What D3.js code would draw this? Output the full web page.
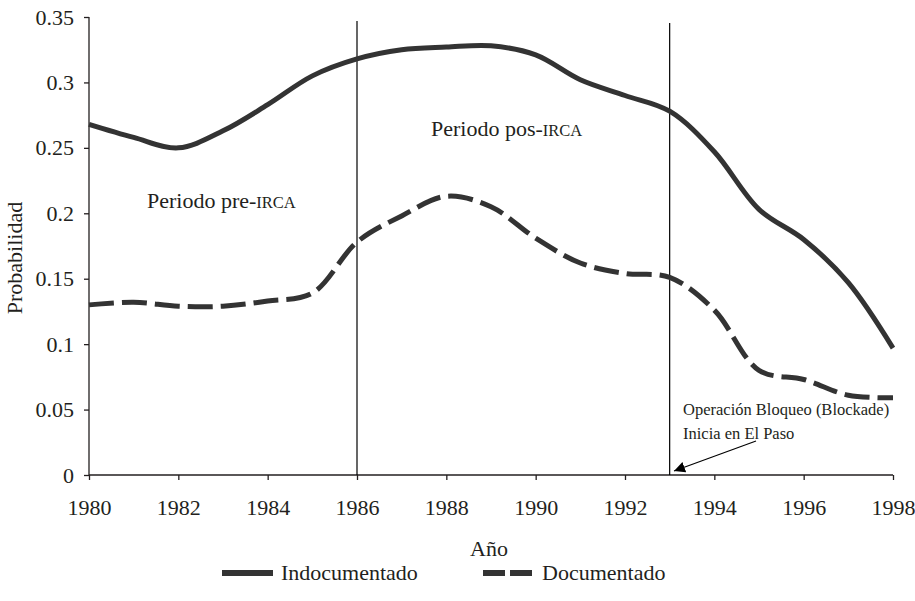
<!DOCTYPE html>
<html>
<head>
<meta charset="utf-8">
<script src="https://cdn.jsdelivr.net/npm/d3@7"></script>
<style>
  html, body { margin: 0; padding: 0; background: #fff; }
  svg { display: block; }
  svg text { font-family: "Liberation Serif", "DejaVu Serif", serif !important; fill: #231f20; }
</style>
</head>
<body>
<svg id="chart" width="915" height="601"></svg>
<script>
const years = [1980,1981,1982,1983,1984,1985,1986,1987,1988,1989,1990,1991,1992,1993,1994,1995,1996,1997,1998];
const indocumentado = [0.268,0.258,0.250,0.263,0.283,0.305,0.318,0.325,0.327,0.328,0.321,0.302,0.290,0.278,0.247,0.203,0.180,0.147,0.097];
const documentado   = [0.130,0.132,0.129,0.129,0.133,0.139,0.178,0.198,0.213,0.205,0.181,0.162,0.154,0.151,0.126,0.080,0.073,0.061,0.059];
const xTicks = [1980,1982,1984,1986,1988,1990,1992,1994,1996,1998];
const yTicks = [0,0.05,0.1,0.15,0.2,0.25,0.3,0.35];
const yTickLabels = ["0","0.05","0.1","0.15","0.2","0.25","0.3","0.35"];
const periodLines = [1986, 1993];
const seriesNames = ["Indocumentado", "Documentado"];

const FONT = '"Liberation Serif", "DejaVu Serif", serif';
const svg = d3.select("#chart").attr("font-family", FONT);
const pLeft = 89, pRight = 893, pTop = 17, pBottom = 475;
const x = d3.scaleLinear().domain([1980, 1998]).range([pLeft, pRight]);
const y = d3.scaleLinear().domain([0, 0.35]).range([pBottom, pTop]);
const lineColor = "#333333";

// axes
const xAxis = d3.axisBottom(x).tickValues(xTicks).tickFormat(d3.format("d")).tickSize(5).tickPadding(19);
const gx = svg.append("g").attr("transform", `translate(0,${pBottom})`).call(xAxis);
const yAxis = d3.axisLeft(y).tickValues(yTicks).tickFormat((d,i) => yTickLabels[i]).tickSize(5).tickPadding(10);
const gy = svg.append("g").attr("transform", `translate(${pLeft},0)`).call(yAxis);
[gx, gy].forEach(g => {
  g.attr("font-family", FONT).attr("font-size", 22);
  g.select(".domain").attr("stroke", "#231f20").attr("stroke-width", 1.3);
  g.selectAll(".tick line").attr("stroke", "#231f20").attr("stroke-width", 1.3);
  g.selectAll(".tick text").attr("font-family", FONT).attr("font-size", 22).attr("fill", "#231f20");
});
gx.select(".domain").attr("d", `M${pLeft},0H${pRight}`);
gy.select(".domain").attr("d", `M0,${pBottom}V${pTop}`);

// vertical period lines
svg.selectAll("line.period").data(periodLines).join("line")
  .attr("class", "period")
  .attr("x1", d => x(d)).attr("x2", d => x(d))
  .attr("y1", (d,i) => i === 0 ? 21 : 23).attr("y2", pBottom)
  .attr("stroke", "#000").attr("stroke-width", 1.2);

// series lines
const line = d3.line().x((d,i) => x(years[i])).y(d => y(d)).curve(d3.curveCatmullRom.alpha(0.5));
svg.append("path").datum(indocumentado).attr("d", line)
  .attr("fill", "none").attr("stroke", lineColor).attr("stroke-width", 5);
svg.append("path").datum(documentado).attr("d", line)
  .attr("fill", "none").attr("stroke", lineColor).attr("stroke-width", 5)
  .attr("stroke-dasharray", "25,8");

// period labels
function periodLabel(tx, ty, pre) {
  const t = svg.append("text").attr("x", tx).attr("y", ty).attr("font-size", 22);
  t.append("tspan").text(pre);
  t.append("tspan").attr("font-size", 16.5).text("IRCA");
}
periodLabel(147, 208, "Periodo pre-");
periodLabel(431, 136, "Periodo pos-");

// annotation
svg.append("text").attr("x", 683).attr("y", 415).attr("font-size", 16.5).text("Operación Bloqueo (Blockade)");
svg.append("text").attr("x", 683).attr("y", 439).attr("font-size", 16.5).text("Inicia en El Paso");
svg.append("defs").append("marker").attr("id", "arrow")
  .attr("viewBox", "0 0 10 10").attr("refX", 10).attr("refY", 5)
  .attr("markerWidth", 11).attr("markerHeight", 11).attr("markerUnits", "userSpaceOnUse")
  .attr("orient", "auto")
  .append("path").attr("d", "M0,0L10,5L0,10z").attr("fill", "#000");
svg.append("line").attr("x1", 756).attr("y1", 441).attr("x2", 674).attr("y2", 471)
  .attr("stroke", "#000").attr("stroke-width", 1.2).attr("marker-end", "url(#arrow)");

// axis titles
svg.append("text").attr("x", 489).attr("y", 556).attr("text-anchor", "middle").attr("font-size", 22).text("Año");
svg.append("text").attr("transform", "translate(22,258) rotate(-90)").attr("text-anchor", "middle").attr("font-size", 22).text("Probabilidad");

// legend
const legend = [
  {name: seriesNames[0], x0: 222, dash: null, tx: 281},
  {name: seriesNames[1], x0: 483, dash: "22,5", tx: 542}
];
const ly = 573;
legend.forEach(l => {
  svg.append("line").attr("x1", l.x0).attr("x2", l.x0 + 51).attr("y1", ly).attr("y2", ly)
    .attr("stroke", lineColor).attr("stroke-width", 6).attr("stroke-dasharray", l.dash);
  svg.append("text").attr("x", l.tx).attr("y", ly + 7).attr("font-size", 22).text(l.name);
});
</script>
</body>
</html>
